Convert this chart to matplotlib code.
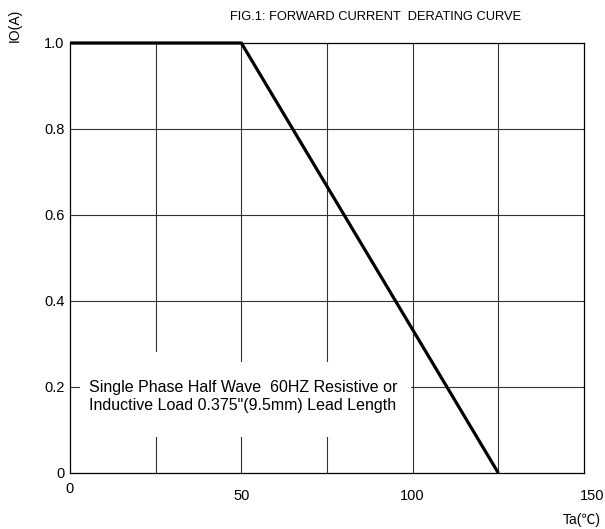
import numpy as np
import matplotlib.pyplot as plt
import matplotlib.transforms as mtransforms
from matplotlib.patches import Rectangle

plt.rcParams['font.family'] = ['Liberation Sans', 'Noto Sans CJK SC', 'DejaVu Sans']

# derating curve
ta = [0, 50, 125]
io = [1.0, 1.0, 0.0]

x_ticks = [0, 50, 100, 150]
x_labels = ['0', '50', '100', '150']
y_ticks = [0, 0.2, 0.4, 0.6, 0.8, 1.0]
y_labels = ['0', '0.2', '0.4', '0.6', '0.8', '1.0']
x_grid = [25, 50, 75, 100, 125]

title = 'FIG.1: FORWARD CURRENT  DERATING CURVE'
note = 'Single Phase Half Wave  60HZ Resistive or\nInductive Load 0.375"(9.5mm) Lead Length'

fig = plt.figure(figsize=(6.05, 5.29), dpi=100)
ax = fig.add_axes([70 / 605, 1 - 473 / 529, 514 / 605, 430 / 529])

ax.set_xlim(0, 150)
ax.set_ylim(0, 1.0)

# grid lines
for x in x_grid:
    ax.axvline(x, color='#333333', lw=0.8, zorder=1)
for y in y_ticks[1:-1]:
    ax.axhline(y, color='#333333', lw=0.8, zorder=1)

# white area behind the note text
ax.add_patch(Rectangle((2.9, 0.084), 96.7, 0.175, facecolor='white',
                       edgecolor='none', zorder=2))
ax.add_patch(Rectangle((20, 0.25), 10, 0.032, facecolor='white',
                       edgecolor='none', zorder=2))

ax.plot(ta, io, color='black', lw=2.3, zorder=4, clip_on=False,
        solid_capstyle='butt')

ax.text(5.5, 0.178, note, fontsize=11.5, va='center', ha='left',
        linespacing=1.2, zorder=5)

ax.set_xticks(x_ticks)
ax.set_xticklabels(x_labels)
ax.set_yticks(y_ticks)
ax.set_yticklabels(y_labels)
ax.tick_params(axis='both', length=0, labelsize=10.5, colors='black')
ax.tick_params(axis='x', pad=11.5)
ax.tick_params(axis='y', pad=4)

for s in ax.spines.values():
    s.set_linewidth(0.9)
    s.set_color('black')

# small shifts of single labels, as in the original
lbls = ax.get_xticklabels()
lbls[0].set_transform(lbls[0].get_transform() +
                      mtransforms.ScaledTranslation(0, 7 / 100, fig.dpi_scale_trans))
lbls[-1].set_transform(lbls[-1].get_transform() +
                       mtransforms.ScaledTranslation(8 / 100, 0, fig.dpi_scale_trans))

fig.text(376 / 605, 1 - 17 / 529, title, fontsize=9.3, ha='center', va='center')
fig.text(15 / 605, 1 - 25 / 529, 'IO(A)', fontsize=10, rotation=90,
         ha='center', va='center')
fig.text(601 / 605, 1 - 520 / 529, 'Ta(℃)', fontsize=10, ha='right', va='center')

fig.savefig('out.png', dpi=100)
